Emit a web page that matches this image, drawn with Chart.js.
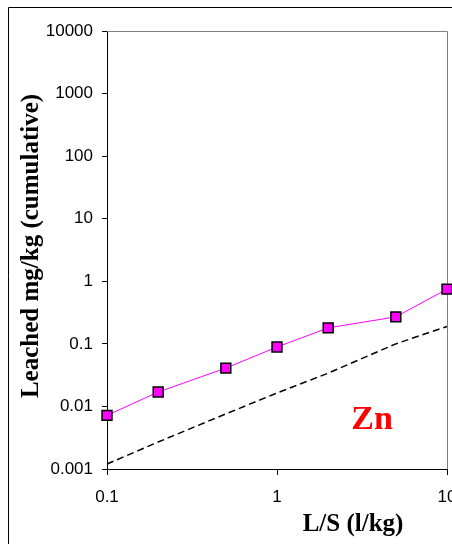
<!DOCTYPE html>
<html>
<head>
<meta charset="utf-8">
<script src="https://cdn.jsdelivr.net/npm/chart.js@4.4.1/dist/chart.umd.min.js"></script>
<style>
  html, body { margin: 0; padding: 0; background: #fff; overflow: hidden; }
  canvas { display: block; }
</style>
</head>
<body>
<canvas id="leachChart" width="452" height="544"></canvas>
<script>
// L/S ratio (l/kg)
const lsRatio = [0.1, 0.2, 0.5, 1, 2, 5, 10];
// measured cumulative Zn leached (mg/kg)
const znLeached = [0.0072, 0.017, 0.041, 0.089, 0.18, 0.27, 0.75];
// dashed reference curve
const refCurve = [0.0012, 0.0027, 0.0076, 0.0164, 0.034, 0.10, 0.19];
// axis ranges / tick labels
const xTicks = [0.1, 1, 10];
const yTicks = [0.001, 0.01, 0.1, 1, 10, 100, 1000, 10000];

const toPoints = (ys) => lsRatio.map((x, i) => ({ x: x, y: ys[i] }));
const fmt = (v) => String(Number(v.toPrecision(1)));
const tickFont = '17px "Liberation Sans", Arial, sans-serif';

// frames, x tick labels (drawn here so the last one doesn't shrink the plot) + titles
const decorations = {
  id: 'decorations',
  beforeDatasetsDraw(chart) {
    const { ctx, chartArea: a } = chart;
    ctx.save();
    ctx.strokeStyle = '#808080';
    ctx.lineWidth = 1;
    ctx.beginPath();
    ctx.moveTo(a.left, a.top + 0.5);
    ctx.lineTo(a.right + 0.5, a.top + 0.5);
    ctx.lineTo(a.right + 0.5, a.bottom);
    ctx.stroke();
    ctx.restore();
  },
  afterDraw(chart) {
    const { ctx } = chart;
    const xs = chart.scales.x;
    ctx.save();
    // outer chart border (runs off the window on the right/bottom)
    ctx.strokeStyle = '#000';
    ctx.lineWidth = 1;
    ctx.beginPath();
    ctx.moveTo(8.5, 544);
    ctx.lineTo(8.5, 7.5);
    ctx.lineTo(452, 7.5);
    ctx.stroke();

    ctx.fillStyle = '#000';
    ctx.font = tickFont;
    ctx.textAlign = 'center';
    ctx.textBaseline = 'alphabetic';
    xTicks.forEach(v => ctx.fillText(fmt(v), xs.getPixelForValue(v), 502));

    ctx.font = 'bold 25px "Liberation Serif", "Times New Roman", serif';
    ctx.fillText('L/S (l/kg)', 353, 531);

    ctx.save();
    ctx.translate(38, 246);
    ctx.rotate(-Math.PI / 2);
    ctx.fillText('Leached mg/kg (cumulative)', 0, 0);
    ctx.restore();

    ctx.fillStyle = '#ff0000';
    ctx.font = 'bold 34px "Liberation Serif", "Times New Roman", serif';
    ctx.fillText('Zn', 372, 429);
    ctx.restore();
  }
};

const ctx = document.getElementById('leachChart').getContext('2d');
const leachChart = new Chart(ctx, {
  type: 'line',
  data: {
    datasets: [{
      label: 'Zn',
      data: toPoints(znLeached),
      borderColor: '#ff00ff',
      borderWidth: 1,
      pointStyle: 'rect',
      pointRadius: 7,
      pointBackgroundColor: '#ff00ff',
      pointBorderColor: '#000',
      pointBorderWidth: 1.5,
      clip: false,
      order: 1
    }, {
      label: 'reference',
      data: toPoints(refCurve),
      borderColor: '#000',
      borderWidth: 1.5,
      borderDash: [7, 4],
      pointRadius: 0,
      clip: false,
      order: 2
    }]
  },
  options: {
    responsive: false,
    animation: false,
    // no auto padding: the square markers would otherwise pull the plot in from the right
    layout: { autoPadding: false, padding: { left: 8, top: 31, right: 5, bottom: 0 } },
    plugins: {
      legend: { display: false },
      tooltip: { enabled: false }
    },
    scales: {
      x: {
        type: 'logarithmic',
        min: xTicks[0],
        max: xTicks[xTicks.length - 1],
        border: { color: '#000', width: 1 },
        grid: { drawOnChartArea: false, tickLength: 6, color: '#000' },
        ticks: { display: false },
        afterBuildTicks: (s) => { s.ticks = xTicks.map(v => ({ value: v })); },
        afterFit: (s) => { s.height = 75; }
      },
      y: {
        type: 'logarithmic',
        min: yTicks[0],
        max: yTicks[yTicks.length - 1],
        border: { color: '#000', width: 1 },
        grid: { drawOnChartArea: false, tickLength: 5, color: '#000' },
        ticks: {
          color: '#000',
          padding: 9,
          font: { family: '"Liberation Sans", Arial, sans-serif', size: 17 },
          callback: (v) => fmt(v)
        },
        afterBuildTicks: (s) => { s.ticks = yTicks.map(v => ({ value: v })); },
        afterFit: (s) => { s.width = 99; }
      }
    }
  },
  plugins: [decorations]
});
</script>
</body>
</html>
